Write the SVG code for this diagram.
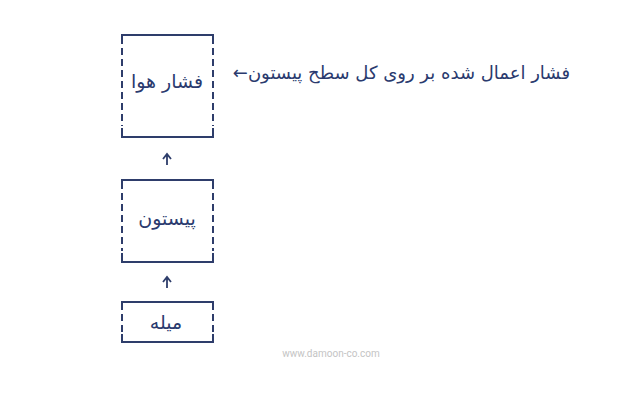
<svg xmlns="http://www.w3.org/2000/svg" width="640" height="400" viewBox="0 0 640 400">
<style>
.solid{stroke:#2e3d6b;stroke-width:2;fill:none}
.dash{stroke:#2e3d6b;stroke-width:2;fill:none;stroke-dasharray:7 4}
.lbl{font-family:"DejaVu Sans","Noto Sans",sans-serif;font-size:19px;fill:#2a3a6e;text-anchor:middle}
.conn{stroke:#2e3d6b;stroke-width:1.8;fill:none}
</style>
<rect width="640" height="400" fill="#ffffff"/>
<g id="node-air">
<path class="solid" d="M122,44 V35 H213 V44 M122,128 V137 H213 V128"/>
<path class="dash" d="M122,48 V126 M213,48 V126"/>
<text class="lbl" x="167" y="88" direction="rtl">فشار هوا</text>
</g>
<g id="node-piston">
<path class="solid" d="M122,189 V180 H213 V189 M122,253 V262 H213 V253"/>
<path class="dash" d="M122,193 V251 M213,193 V251"/>
<text class="lbl" x="167" y="225" direction="rtl">پیستون</text>
</g>
<g id="node-rod">
<path class="solid" d="M122,310 V302 H213 V310 M122,334 V342 H213 V334"/>
<path class="dash" d="M122,314 V332 M213,314 V332"/>
<text class="lbl" x="166" y="329" direction="rtl">میله</text>
</g>
<g id="connectors">
<path class="conn" d="M167,165 V155 M163,159 L167,154 L171,159"/>
<path class="conn" d="M167,288 V278 M163,282 L167,277 L171,282"/>
</g>
<g id="note">
<text x="570" y="79" font-family="DejaVu Sans, Noto Sans, sans-serif" font-size="18" fill="#2a3a6e" text-anchor="start" direction="rtl">فشار اعمال شده بر روی کل سطح پیستون←</text>
</g>
<text x="331" y="357" font-family="Roboto, sans-serif" font-size="10" fill="#c4c4c4" text-anchor="middle">www.damoon-co.com</text>
</svg>
